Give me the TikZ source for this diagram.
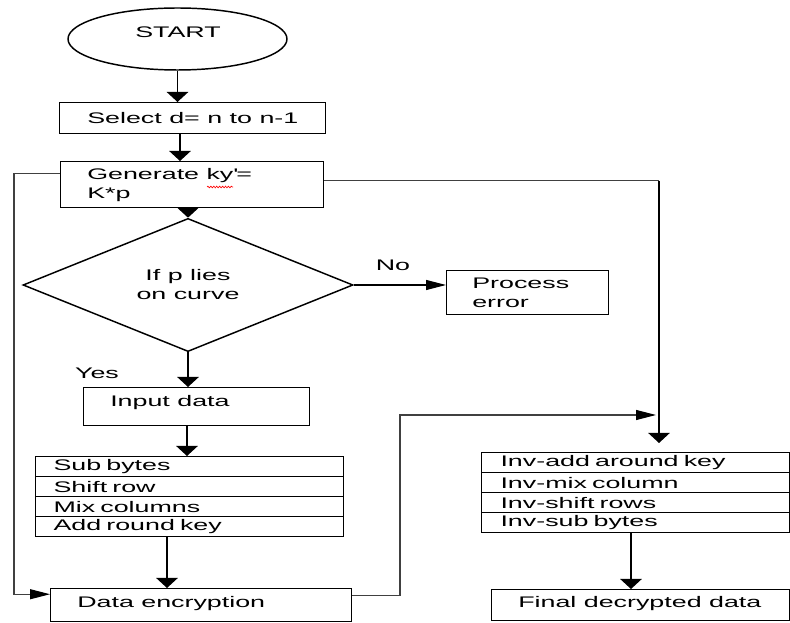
\documentclass[tikz,border=0pt]{standalone}
\usepackage{fontspec}
\setmainfont{Liberation Sans}[FakeStretch=1.75]
\usetikzlibrary{shapes.geometric,arrows.meta,calc,decorations.pathmorphing}
\newcommand\pxu{0.75pt}
\begin{document}
\begin{tikzpicture}[x=0.75pt,y=-0.75pt,
  font=\fontsize{11.5pt}{14.25pt}\selectfont,
  box/.style={draw, line width=1.1pt, rectangle, inner sep=0pt, anchor=north west},
  txt/.style={inner sep=0pt, anchor=west},
  row/.style={draw, line width=0.8pt, rectangle, anchor=north west,
    minimum height=20*\pxu, inner ysep=0pt, inner xsep=18*\pxu,
    text width=272*\pxu, align=left},
  varrow/.style={line width=1.3pt, -{Triangle[width=16pt,length=7.5pt]}},
  harrow/.style={line width=0.8pt, -{Triangle[width=7.5pt,length=15pt,black]}},
  conn/.style={line width=0.8pt, draw=black!75}]
\useasboundingbox (0,0) rectangle (790,623);

% start
\node[draw, line width=1.1pt, shape=ellipse, inner sep=0pt,
  minimum width=219*\pxu, minimum height=62*\pxu] (start) at (177.5,39) {};
\node[txt, anchor=center] (startt) at (178,32) {START};

% select
\node[box, minimum width=266*\pxu, minimum height=31*\pxu] (sel) at (59,102) {};
\node[txt] (selt) at (87,118) {Select d= n to n-1};

% generate
\node[box, minimum width=263*\pxu, minimum height=46*\pxu] (gen) at (60,161) {};
\node[txt, align=left] (gent) at (87,185) {Generate ky\textquotesingle=\\K*p};
\draw[red, line width=0.5pt, decorate, decoration={snake, amplitude=0.6pt, segment length=2.2pt}] (207,187) -- (233,187);

% decision
\node[draw, line width=1.1pt, shape=diamond, inner sep=0pt, align=center,
  minimum width=330*\pxu, minimum height=104*\pxu] (dia) at (188,285) {If p lies\\on curve};

% process error
\node[box, minimum width=162*\pxu, minimum height=44*\pxu] (perr) at (446,270) {};
\node[txt, align=left] (perrt) at (472,293) {Process\\error};

% labels
\node[txt, anchor=center] (no) at (393,265) {No};
\node[txt, anchor=center] (yes) at (97,373) {Yes};

% input data
\node[box, minimum width=226*\pxu, minimum height=38*\pxu] (inp) at (83,387) {};
\node[txt] (inpt) at (110,403) {Input data};

% encryption steps
\node[row] (enc1) at (35,456) {Sub bytes};
\node[row] (enc2) at (35,476) {Shift row};
\node[row] (enc3) at (35,496) {Mix columns};
\node[row] (enc4) at (35,516) {Add round key};

% data encryption
\node[box, minimum width=301*\pxu, minimum height=33*\pxu] (denc) at (50,588) {};
\node[txt] (denct) at (77,604) {Data encryption};

% decryption steps
\node[row, inner xsep=19*\pxu, text width=270*\pxu] (inv1) at (481,452) {Inv-add around key};
\node[row, inner xsep=19*\pxu, text width=270*\pxu] (inv2) at (481,472) {Inv-mix column};
\node[row, inner xsep=19*\pxu, text width=270*\pxu] (inv3) at (481,492) {Inv-shift rows};
\node[row, inner xsep=19*\pxu, text width=270*\pxu] (inv4) at (481,512) {Inv-sub bytes};

% final
\node[box, minimum width=298*\pxu, minimum height=31*\pxu] (fin) at (491,589) {};
\node[txt] (fint) at (518,604) {Final decrypted data};

% main arrows
\draw[varrow] (start.south) -- (start.south |- sel.north);
\coordinate (a2) at (180,0);
\draw[varrow] (a2 |- sel.south) -- (a2 |- gen.north);
\draw[varrow] (dia.north |- gen.south) -- (dia.north);
\draw[varrow] (dia.south) -- (dia.south |- inp.north);
\coordinate (a5) at (187,0);
\draw[varrow] (a5 |- inp.south) -- (a5 |- enc1.north);
\coordinate (a6) at (167,0);
\draw[varrow] (a6 |- enc4.south) -- (a6 |- denc.north);
\draw[harrow] (dia.east) -- (dia.east -| perr.west);

% left loop
\coordinate (lx) at (14,400);
\draw[conn, harrow] ([yshift=11*\pxu]gen.west) -| (lx) |- ([yshift=11*\pxu]denc.west);

% right path
\coordinate (g1) at ([yshift=4*\pxu]gen.east);
\coordinate (rx) at (659,0);
\coordinate (rc) at (rx |- g1);
\draw[conn] (g1) -- (rc);
\draw[varrow, line width=1pt, shorten >=9*\pxu] (rc) -- (rc |- inv1.north);

% middle path
\coordinate (d1) at ([yshift=9.5*\pxu]denc.east);
\coordinate (mx) at (400,415);
\coordinate (mj) at (rc |- mx);
\draw[conn, harrow, shorten >=3*\pxu] (d1) -| (mx) -- (mj);

% final arrow
\coordinate (ia) at (631,0);
\draw[varrow] (ia |- inv4.south) -- (ia |- fin.north);
\end{tikzpicture}
\end{document}
